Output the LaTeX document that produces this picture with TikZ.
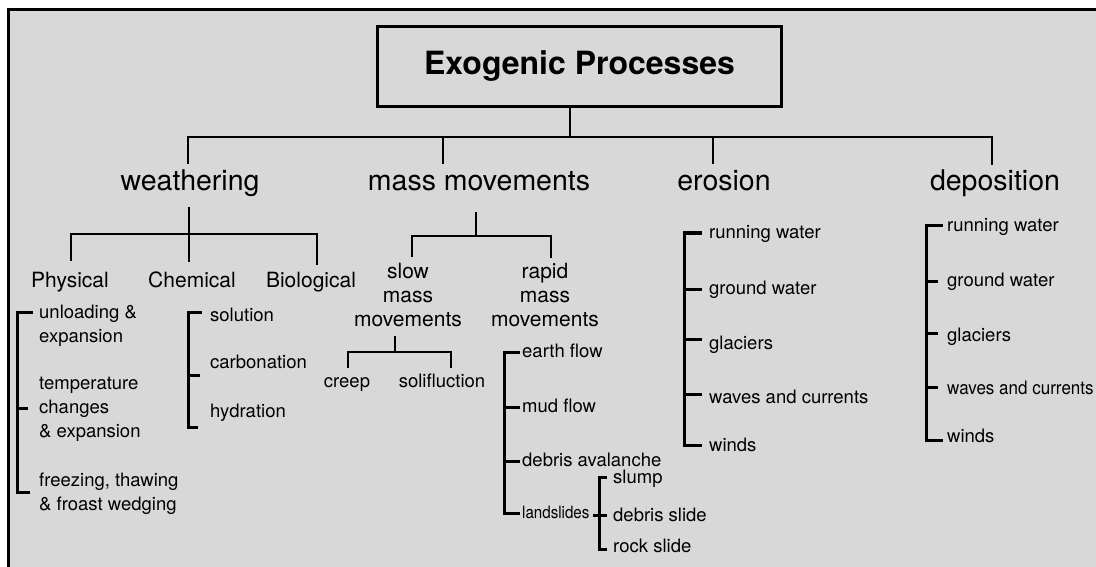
\documentclass[tikz,border=0pt]{standalone}
\usepackage{fontspec}
\usepackage{graphicx}
\setmainfont{TeX Gyre Heros}
\definecolor{bggray}{HTML}{D8D8D8}
\begin{document}
\begin{tikzpicture}[x=1pt,y=-1pt,
  lone/.style={font=\fontsize{28.5}{32}\selectfont, inner sep=0pt, anchor=base},
  ltwo/.style={font=\fontsize{21}{24}\selectfont, inner sep=0pt, anchor=base, align=center},
  leaf/.style={font=\fontsize{18.5}{24}\selectfont, inner sep=0pt, anchor=base west, align=left},
  titlebox/.style={draw, line width=3pt, minimum width=404pt, minimum height=80pt, inner sep=0pt, font=\bfseries\fontsize{32}{36}\selectfont},
  tree/.style={line width=2.6pt},
  brk/.style={line width=3pt},
]
\useasboundingbox (0,0) rectangle (1096,567);
\begin{scope}
\clip (0,0) rectangle (1096,567);
\fill[bggray] (8,10) rectangle (1110,580);
\draw[line width=3pt] (1110,10) -- (8,10) -- (8,580);
\end{scope}

% nodes
\node[titlebox] (title) at (579.5,66.5) {Exogenic Processes};
\node[lone] (weathering) at (190,191) {weathering};
\node[lone] (mass) at (479,191) {mass movements};
\node[lone] (erosion) at (724,191) {erosion};
\node[lone] (deposition) at (995,191) {deposition};
\node[ltwo] (physical) at (70,287) {Physical};
\node[ltwo] (chemical) at (192,287) {Chemical};
\node[ltwo] (biological) at (311,287) {Biological};
\node[ltwo] (slow) at (408,326) {slow\\mass\\movements};
\node[ltwo] (rapid) at (545,326) {rapid\\mass\\movements};

\node[leaf] (p1) at (39,342) {unloading \&\\expansion};
\node[leaf] (p2) at (39,437) {temperature\\changes\\\& expansion};
\node[leaf] (p3) at (39,510) {freezing, thawing\\\& froast wedging};
\node[leaf] (c1) at (210,321) {solution};
\node[leaf] (c2) at (210,368) {carbonation};
\node[leaf] (c3) at (210,417) {hydration};
\node[leaf, anchor=base] (creep) at (347,387) {creep};
\node[leaf, anchor=base] (solif) at (442,387) {solifluction};
\node[leaf] (r1) at (522,357) {earth flow};
\node[leaf] (r2) at (522,412) {mud flow};
\node[leaf] (r3) at (522,466) {debris avalanche};
\node[leaf, font=\fontsize{17}{20}\selectfont] (r4) at (522,518) {\scalebox{0.89}[1]{landslides}};
\node[leaf] (l1) at (613,483) {slump};
\node[leaf] (l2) at (613,521) {debris slide};
\node[leaf] (l3) at (613,552) {rock slide};

\node[leaf] (e1) at (709,238) {running water};
\node[leaf] (e2) at (709,294) {ground water};
\node[leaf] (e3) at (709,349) {glaciers};
\node[leaf] (e4) at (709,403) {waves and currents};
\node[leaf] (e5) at (709,451) {winds};

\node[leaf] (d1) at (947,231) {running water};
\node[leaf] (d2) at (947,286) {ground water};
\node[leaf] (d3) at (947,341) {glaciers};
\node[leaf] (d4) at (947,394) {\scalebox{0.92}[1]{waves and currents}};
\node[leaf] (d5) at (947,442) {winds};

% tree connectors
\coordinate (bus) at (570,137);
\draw[tree] (title.south -| bus) -- (bus);
\draw[tree] (188,164) -- (188,137) -- (992,137) -- (992,165);
\draw[tree] (443,137) -- (443,164);
\draw[tree] (713,137) -- (713,164);
\draw[tree] (189,207) -- (189,262);
\draw[tree] (71,261) -- (71,234) -- (317,234) -- (317,265);
\draw[tree] (476,212) -- (476,236);
\draw[tree] (412,257) -- (412,236) -- (551,236) -- (551,258);
\draw[tree] (395,336) -- (395,352);
\draw[tree] (348,368) -- (348,352) -- (451,352) -- (451,368);

% brackets
\draw[brk] (33,312) -- (17,312) -- (17,492) -- (30,492);
\draw[brk] (17,408) -- (28,408);
\draw[brk] (202,312) -- (188,312) -- (188,427) -- (198,427);
\draw[brk] (188,375) -- (200,375);
\draw[brk] (520,352) -- (504,352) -- (504,513) -- (520,513);
\draw[brk] (504,407) -- (520,407);
\draw[brk] (504,461) -- (520,461);
\draw[brk] (607,477) -- (599,477) -- (599,549) -- (607,549);
\draw[brk] (593,515) -- (607,515);
\draw[brk] (702,233) -- (684,233) -- (684,445) -- (702,445);
\foreach \yy in {289,339,394} \draw[brk] (684,\yy) -- (702,\yy);
\draw[brk] (943,226) -- (926,226) -- (926,440) -- (943,440);
\foreach \yy in {281,333,387} \draw[brk] (926,\yy) -- (938,\yy);
\end{tikzpicture}
\end{document}
